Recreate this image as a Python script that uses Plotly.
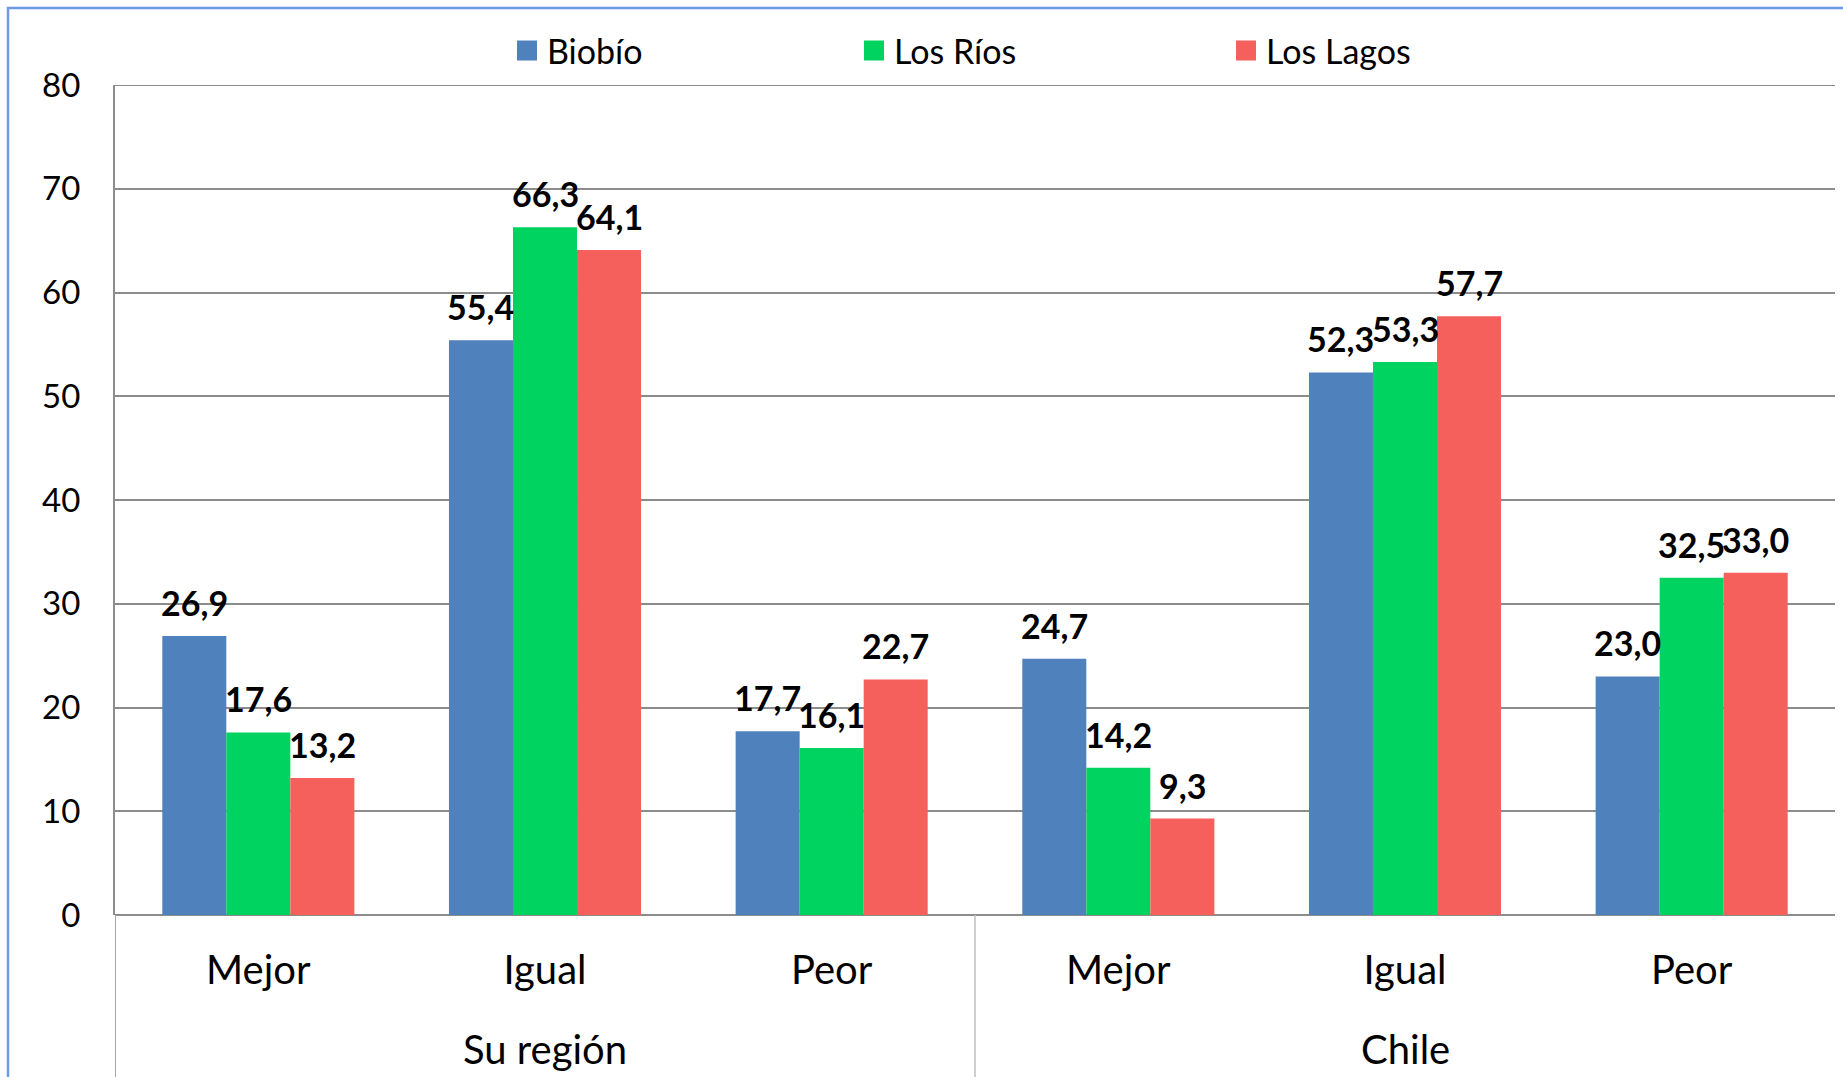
import plotly.graph_objects as go

# Survey results (%) by region, for each scope and answer
answers = ["Mejor", "Igual", "Peor", "Mejor", "Igual", "Peor"]
scopes = ["Su región", "Chile"]
regions = ["Biobío", "Los Ríos", "Los Lagos"]
biobio = [26.9, 55.4, 17.7, 24.7, 52.3, 23.0]
los_rios = [17.6, 66.3, 16.1, 14.2, 53.3, 32.5]
los_lagos = [13.2, 64.1, 22.7, 9.3, 57.7, 33.0]
y_ticks = [0, 10, 20, 30, 40, 50, 60, 70, 80]

series = [biobio, los_rios, los_lagos]
colors = ["#4F81BD", "#00D35F", "#F5605C"]

W, H = 1843, 1077
ML, MR, MT, MB = 115, 8, 85, 162
PLOT_W = W - ML - MR
PLOT_H = H - MT - MB

FONT = "Lato"
GRID = "#8C8C8C"
BARGAP = 0.33

x = list(range(len(answers)))
fig = go.Figure()

for name, vals, col in zip(regions, series, colors):
    fig.add_trace(go.Bar(
        x=x, y=vals, name=name, marker=dict(color=col, line=dict(width=0)),
        showlegend=False, hoverinfo="y+name",
    ))

# legend entries (one legend per region so each can be placed freely)
legend_left = [507, 854, 1226]
for i, (name, col) in enumerate(zip(regions, colors)):
    key = "legend" if i == 0 else f"legend{i + 1}"
    fig.add_trace(go.Scatter(
        x=[None], y=[None], mode="markers", name=name,
        marker=dict(symbol="square", size=16, color=col, line=dict(color=col, width=4)),
        legend=key,
    ))

legend_cfg = {}
for i, left in enumerate(legend_left):
    key = "legend" if i == 0 else f"legend{i + 1}"
    legend_cfg[key] = dict(
        x=left / W, y=1 - 51 / H, xref="container", yref="container",
        xanchor="left", yanchor="middle", orientation="h",
        font=dict(family=FONT, size=34, color="black"),
        bgcolor="rgba(0,0,0,0)", borderwidth=0,
    )

# value labels above each bar
bw = (1 - BARGAP) / len(series)
annotations = []
for k, vals in enumerate(series):
    for i, v in enumerate(vals):
        annotations.append(dict(
            x=i + (k - 1) * bw, y=v, xref="x", yref="y",
            text=f"{v:.1f}".replace(".", ","), showarrow=False,
            yanchor="bottom", xanchor="center", yshift=11,
            font=dict(family=FONT, size=34, color="black", weight="bold"),
        ))

# scope labels under the answer labels
for j, scope in enumerate(scopes):
    annotations.append(dict(
        x=3 * j + 1, y=-(1049 - (H - MB)) / PLOT_H, xref="x", yref="paper",
        text=scope, showarrow=False, yanchor="middle", xanchor="center",
        font=dict(family=FONT, size=40, color="black"),
    ))

bottom = -MB / PLOT_H - 0.02
shapes = [
    # top gridline at 80
    dict(type="line", xref="paper", yref="y", x0=0, x1=1, y0=80, y1=80,
         line=dict(color=GRID, width=2)),
    # left axis continued through the category labels
    dict(type="line", xref="x", yref="paper", x0=-0.5, x1=-0.5, y0=0, y1=bottom,
         line=dict(color="#A6A6A6", width=2)),
    # divider between the two scopes
    dict(type="line", xref="x", yref="paper", x0=2.5, x1=2.5, y0=0, y1=bottom,
         line=dict(color="#BFBFBF", width=1.5)),
    # outer chart frame
    dict(type="rect", xref="paper", yref="paper",
         x0=(8 - ML) / PLOT_W, x1=1.2, y0=bottom - 0.1, y1=(H - MB - 8) / PLOT_H,
         line=dict(color="#6A9BE3", width=2.5), fillcolor="rgba(0,0,0,0)", layer="below"),
]

fig.update_layout(
    width=W, height=H,
    margin=dict(l=ML, r=MR, t=MT, b=MB, pad=0, autoexpand=False),
    paper_bgcolor="white", plot_bgcolor="white",
    barmode="group", bargap=BARGAP, bargroupgap=0,
    font=dict(family=FONT, size=33, color="black"),
    annotations=annotations, shapes=shapes,
    **legend_cfg,
)

fig.update_xaxes(
    range=[-0.5, 5.5], tickmode="array", tickvals=x, ticktext=answers,
    showgrid=False, zeroline=False, showline=False, ticks="",
    ticklabelstandoff=28, tickfont=dict(family=FONT, size=40, color="black"),
    fixedrange=True,
)
fig.update_yaxes(
    range=[0, 80], tickmode="array", tickvals=y_ticks,
    showgrid=True, gridcolor=GRID, gridwidth=2,
    zeroline=True, zerolinecolor=GRID, zerolinewidth=2,
    showline=True, linecolor=GRID, linewidth=2, ticks="",
    ticklabelstandoff=26, tickfont=dict(family=FONT, size=33, color="black"),
    fixedrange=True,
)

fig.write_html("out.html")
